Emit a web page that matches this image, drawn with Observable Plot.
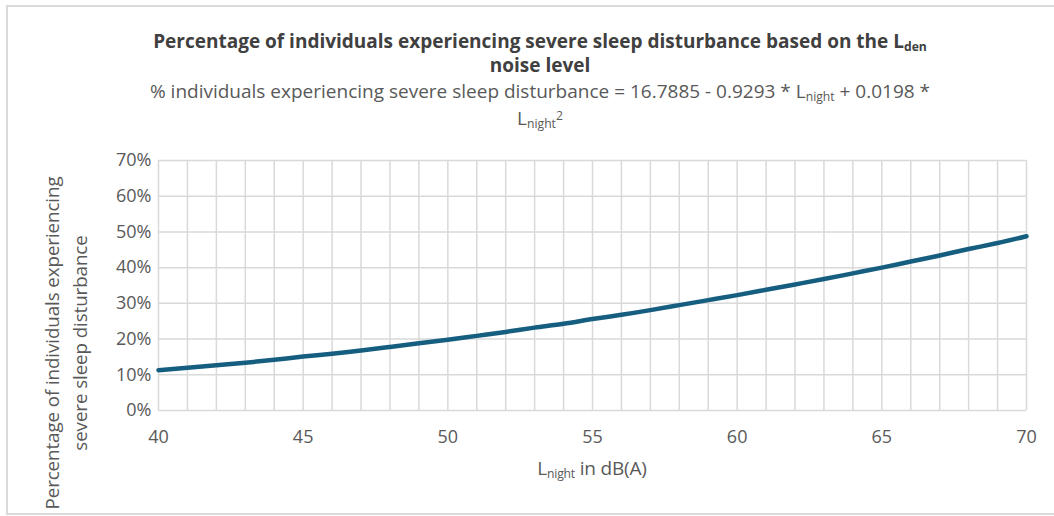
<!DOCTYPE html>
<html>
<head>
<meta charset="utf-8">
<script src="https://cdn.jsdelivr.net/npm/d3@7"></script>
<script src="https://cdn.jsdelivr.net/npm/@observablehq/plot@0.6"></script>
<style>
  html, body { margin: 0; padding: 0; background: #fff; }
  #wrap { position: relative; width: 1054px; height: 516px; overflow: hidden; font-family: "Open Sans", sans-serif; color: #595959; }
  #border { position: absolute; left: 6px; top: 5px; width: 1100px; height: 510px; border: 2px solid #d9d9d9; box-sizing: border-box; }
  .t { position: absolute; left: 0; width: 1080px; text-align: center; white-space: nowrap; line-height: 22px; }
  #title1, #title2 { font-weight: bold; font-size: 19px; color: #404040; letter-spacing: 0px; }
  #sub1, #sub2 { font-size: 19px; color: #595959; letter-spacing: 0px; }
  sub { font-size: 64%; vertical-align: -0.22em; line-height: 0; }
  sup { font-size: 64%; vertical-align: 0.4em; line-height: 0; }
  #xlabel { position: absolute; left: 392px; width: 400px; top: 455px; text-align: center; font-size: 19px; letter-spacing: -0.2px; }
  #ylabel { position: absolute; left: 66px; top: 343px; width: 500px; transform: translate(-50%, -50%) rotate(-90deg); text-align: center; font-size: 18.8px; line-height: 28px; white-space: nowrap; letter-spacing: -0.1px; }
  svg { position: absolute; left: 0; top: 0; }
</style>
</head>
<body>
<div id="wrap">
  <div id="border"></div>
  <div class="t" id="title1" style="top:30px">Percentage of individuals experiencing severe sleep disturbance based on the L<sub>den</sub></div>
  <div class="t" id="title2" style="top:54px">noise level</div>
  <div class="t" id="sub1" style="top:80px">% individuals experiencing severe sleep disturbance = 16.7885 - 0.9293 * L<sub>night</sub> + 0.0198 *</div>
  <div class="t" id="sub2" style="top:107px">L<sub>night</sub><sup>2</sup></div>
  <div id="xlabel">L<sub>night</sub> in dB(A)</div>
  <div id="ylabel">Percentage of individuals experiencing<br>severe sleep disturbance</div>
</div>
<script>
const lnight = [40,41,42,43,44,45,46,47,48,49,50,51,52,53,54,55,56,57,58,59,60,61,62,63,64,65,66,67,68,69,70];
const pct = [11.3,12.0,12.7,13.4,14.2,15.1,15.9,16.8,17.8,18.8,19.8,20.9,22.0,23.2,24.3,25.6,26.8,28.1,29.5,30.9,32.3,33.8,35.3,36.8,38.4,40.0,41.7,43.4,45.2,46.9,48.8];
const xTicks = [40,45,50,55,60,65,70];
const xGrid = [40,41,42,43,44,45,46,47,48,49,50,51,52,53,54,55,56,57,58,59,60,61,62,63,64,65,66,67,68,69,70];
const yTicks = [0,10,20,30,40,50,60,70];

const data = lnight.map((x, i) => ({x, y: pct[i]}));

const chart = Plot.plot({
  width: 1054,
  height: 516,
  marginLeft: 158,
  marginRight: 28,
  marginTop: 160,
  marginBottom: 106,
  style: {fontFamily: "Open Sans, sans-serif", fontSize: "18px", color: "#595959", background: "transparent"},
  x: {domain: [40, 70], ticks: xTicks, tickSize: 0, tickPadding: 20, label: null},
  y: {domain: [0, 70], ticks: yTicks, tickSize: 0, tickPadding: 7, tickFormat: d => d + "%", label: null},
  marks: [
    Plot.ruleX(xGrid, {stroke: "#d9d9d9", strokeWidth: 1.5, strokeOpacity: 1}),
    Plot.ruleY(yTicks, {stroke: "#d9d9d9", strokeWidth: 1.5, strokeOpacity: 1}),
    Plot.line(data, {x: "x", y: "y", stroke: "#165e80", strokeWidth: 4.5, curve: "natural"})
  ]
});
document.getElementById("wrap").appendChild(chart);
</script>
</body>
</html>
